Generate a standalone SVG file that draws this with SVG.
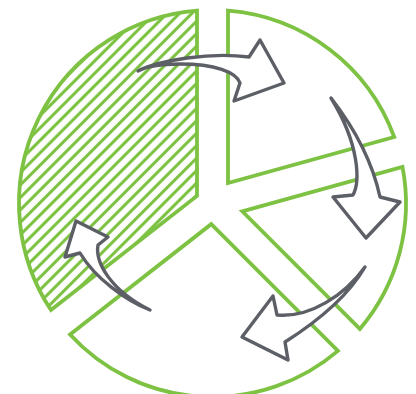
<svg xmlns="http://www.w3.org/2000/svg" width="416" height="394" viewBox="0 0 416 394">
  <style>
    .seg { fill: none; stroke: #7dc242; stroke-width: 3.8; stroke-linejoin: miter; }
    .arrow { fill: #ffffff; stroke: #5d5f66; stroke-width: 3.4; stroke-linejoin: round; stroke-linecap: round; }
  </style>
  <defs>
    <pattern id="hatch" patternUnits="userSpaceOnUse" width="8.8" height="8.8" patternTransform="rotate(-45)">
      <line x1="-1" y1="4.4" x2="9.8" y2="4.4" stroke="#7dc242" stroke-width="3.1"/>
    </pattern>
  </defs>
  <rect width="416" height="394" fill="#ffffff"/>
  <g id="segment-1">
    <path class="seg" style="fill:url(#hatch)" d="M197,195.94 L197,10.62 A193.5,193.5 0 0 0 50.97,310.04 Z"/>
  </g>
  <g id="segment-2">
    <path class="seg" d="M228,183.11 L228,10.62 A193.5,193.5 0 0 1 394.22,137.02 Z"/>
  </g>
  <g id="segment-3">
    <path class="seg" d="M242.25,211.33 L402.5,166.9 A193.5,193.5 0 0 1 359.85,328.93 Z"/>
  </g>
  <g id="segment-4">
    <path class="seg" d="M211.24,224.15 L337.93,350.85 A193.5,193.5 0 0 1 70.05,334.46 Z"/>
  </g>
  <g id="connectors">
    <path class="arrow" d="M138,71 C160,60 210,52 249,57 L260,40 L284,83 L234,101 L240,83 C236,72 215,64 180,64 C160,64 145,67 138,71 Z"/>
    <path class="arrow" d="M331,98 C352,125 372,160 380,197 L400,202 L366,238 L333,197 L353,195 C360,182 360,145 331,98 Z"/>
    <path class="arrow" d="M365,267 C345,295 310,318 277,315 L273,296 L242,337 L288,360 L285,342 C315,323 347,298 365,267 Z"/>
    <path class="arrow" d="M150,310 C125,300 95,278 80,253 L65,257 L76,221 L108,237 L98,245 C95,262 110,290 150,310 Z"/>
  </g>
</svg>
